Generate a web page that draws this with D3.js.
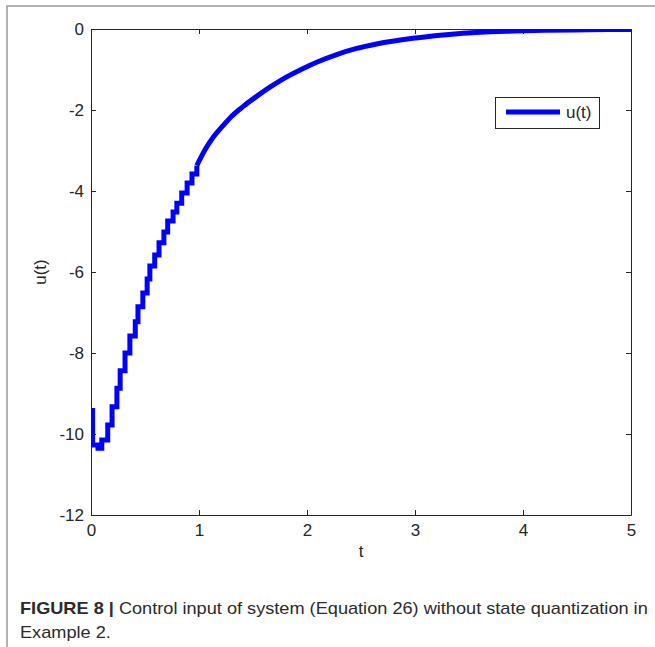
<!DOCTYPE html>
<html>
<head>
<meta charset="utf-8">
<script src="https://cdn.jsdelivr.net/npm/d3@7"></script>
<style>
  body { margin: 0; background: #fff; }
  svg { display: block; }
</style>
</head>
<body>
<svg id="chart" width="655" height="647"></svg>
<script>
// ── data ──
const xTicks = [0, 1, 2, 3, 4, 5];
const yTicks = [0, -2, -4, -6, -8, -10, -12];

// early part: clearly stair-stepped (quantized input)
const stepT = [0, 0.015, 0.065, 0.10, 0.155, 0.195, 0.24, 0.27, 0.315, 0.36, 0.41, 0.435,
               0.48, 0.52, 0.545, 0.59, 0.63, 0.675, 0.71, 0.76, 0.795, 0.84, 0.89, 0.935, 0.98];
const stepU = [-9.42, -10.27, -10.35, -10.15, -9.78, -9.33, -8.87, -8.44, -8.0, -7.58, -7.23, -6.86,
               -6.52, -6.17, -5.85, -5.58, -5.28, -5.01, -4.74, -4.52, -4.30, -4.05, -3.80, -3.58, -3.37];

// tail: steps are too fine to see, read as a smooth curve
const tailT = [0.98, 1.056, 1.13, 1.225, 1.30, 1.41, 1.53, 1.66, 1.78, 1.96, 2.09, 2.275,
               2.46, 2.645, 2.98, 3.29, 3.6, 3.91, 4.2, 4.6, 5.0];
const tailU = [-3.37, -2.98, -2.68, -2.38, -2.16, -1.91, -1.67, -1.43, -1.23, -0.98, -0.82, -0.63,
               -0.48, -0.37, -0.23, -0.14, -0.08, -0.05, -0.03, -0.02, -0.01];

const seriesLabel = "u(t)";
const xLabel = "t", yLabel = "u(t)";

// ── layout ──
const svg = d3.select("#chart");
const FONT = "'Liberation Sans', Arial, Helvetica, sans-serif";
const INK = "#262626";
const pL = 91, pR = 631, pT = 29, pB = 515;

const x = d3.scaleLinear().domain([0, 5]).range([pL, pR]);
const y = d3.scaleLinear().domain([-12, 0]).range([pB, pT]);
const plainFmt = d => String(d);   // Matlab uses a hyphen, not a unicode minus

// outer figure frame (left + top only)
svg.append("path")
    .attr("d", "M7,647V6H655")
    .attr("fill", "none").attr("stroke", "#9a9a9a").attr("stroke-width", 1.5);

// clip to the axes box, like Matlab
svg.append("clipPath").attr("id", "plotclip")
    .append("rect").attr("x", pL).attr("y", pT)
    .attr("width", pR - pL).attr("height", pB - pT);

function styleAxis(g, showLabels) {
    g.selectAll(".domain").attr("stroke", INK).attr("stroke-width", 1);
    g.selectAll(".tick line").attr("stroke", INK).attr("stroke-width", 1);
    g.selectAll("text").attr("fill", INK).attr("font-family", FONT).attr("font-size", "17px");
    if (!showLabels) g.selectAll("text").remove();
}

svg.append("g").attr("transform", `translate(0,${pB})`)
    .call(d3.axisBottom(x).tickValues(xTicks).tickFormat(plainFmt)
        .tickSizeInner(-5).tickSizeOuter(0).tickPadding(9))
    .call(g => styleAxis(g, true));
svg.append("g").attr("transform", `translate(0,${pT})`)
    .call(d3.axisTop(x).tickValues(xTicks).tickSizeInner(-5).tickSizeOuter(0))
    .call(g => styleAxis(g, false));
svg.append("g").attr("transform", `translate(${pL},0)`)
    .call(d3.axisLeft(y).tickValues(yTicks).tickFormat(plainFmt)
        .tickSizeInner(-5).tickSizeOuter(0).tickPadding(7))
    .call(g => styleAxis(g, true));
svg.append("g").attr("transform", `translate(${pR},0)`)
    .call(d3.axisRight(y).tickValues(yTicks).tickSizeInner(-5).tickSizeOuter(0))
    .call(g => styleAxis(g, false));

// series
const plot = svg.append("g").attr("clip-path", "url(#plotclip)");
const stepLine = d3.line().x(d => x(d[0])).y(d => y(d[1])).curve(d3.curveStepAfter);
const tailLine = d3.line().x(d => x(d[0])).y(d => y(d[1])).curve(d3.curveMonotoneX);

plot.append("path")
    .attr("d", stepLine(d3.zip(stepT, stepU)))
    .attr("fill", "none").attr("stroke", "#0000ff").attr("stroke-width", 5)
    .attr("stroke-linejoin", "miter");
plot.append("path")
    .attr("d", tailLine(d3.zip(tailT, tailU)))
    .attr("fill", "none").attr("stroke", "#0000ff").attr("stroke-width", 5);

// axis labels
svg.append("text")
    .attr("x", x(2.5)).attr("y", 557)
    .attr("text-anchor", "middle").attr("fill", INK)
    .attr("font-family", FONT).attr("font-size", "17px")
    .text(xLabel);
svg.append("text")
    .attr("transform", `translate(46,${y(-6)}) rotate(-90)`)
    .attr("text-anchor", "middle").attr("fill", INK)
    .attr("font-family", FONT).attr("font-size", "17px")
    .text(yLabel);

// legend
const lg = svg.append("g");
lg.append("rect").attr("x", 495.5).attr("y", 97.5).attr("width", 104).attr("height", 31)
    .attr("fill", "#fff").attr("stroke", INK).attr("stroke-width", 1);
lg.append("line").attr("x1", 506).attr("x2", 560).attr("y1", 112).attr("y2", 112)
    .attr("stroke", "#0000ff").attr("stroke-width", 5);
lg.append("text").attr("x", 566).attr("y", 118)
    .attr("fill", INK).attr("font-family", FONT).attr("font-size", "17px")
    .text(seriesLabel);

// caption
const CAP = "'Liberation Sans', Arial, sans-serif";
const cap1 = svg.append("text").attr("x", 20).attr("y", 614)
    .attr("fill", "#2b2b2b").attr("font-family", CAP).attr("font-size", "16px");
cap1.append("tspan").attr("font-weight", "bold").text("FIGURE 8 | ");
cap1.append("tspan").text("Control input of system (Equation 26) without state quantization in");
const w1 = cap1.node().getComputedTextLength();
const sx = 628 / w1;
cap1.attr("transform", `translate(20,0) scale(${sx},1) translate(-20,0)`);

svg.append("text").attr("x", 20).attr("y", 638)
    .attr("fill", "#2b2b2b").attr("font-family", CAP).attr("font-size", "16px")
    .attr("transform", `translate(20,0) scale(${sx},1) translate(-20,0)`)
    .text("Example 2.");
</script>
</body>
</html>
